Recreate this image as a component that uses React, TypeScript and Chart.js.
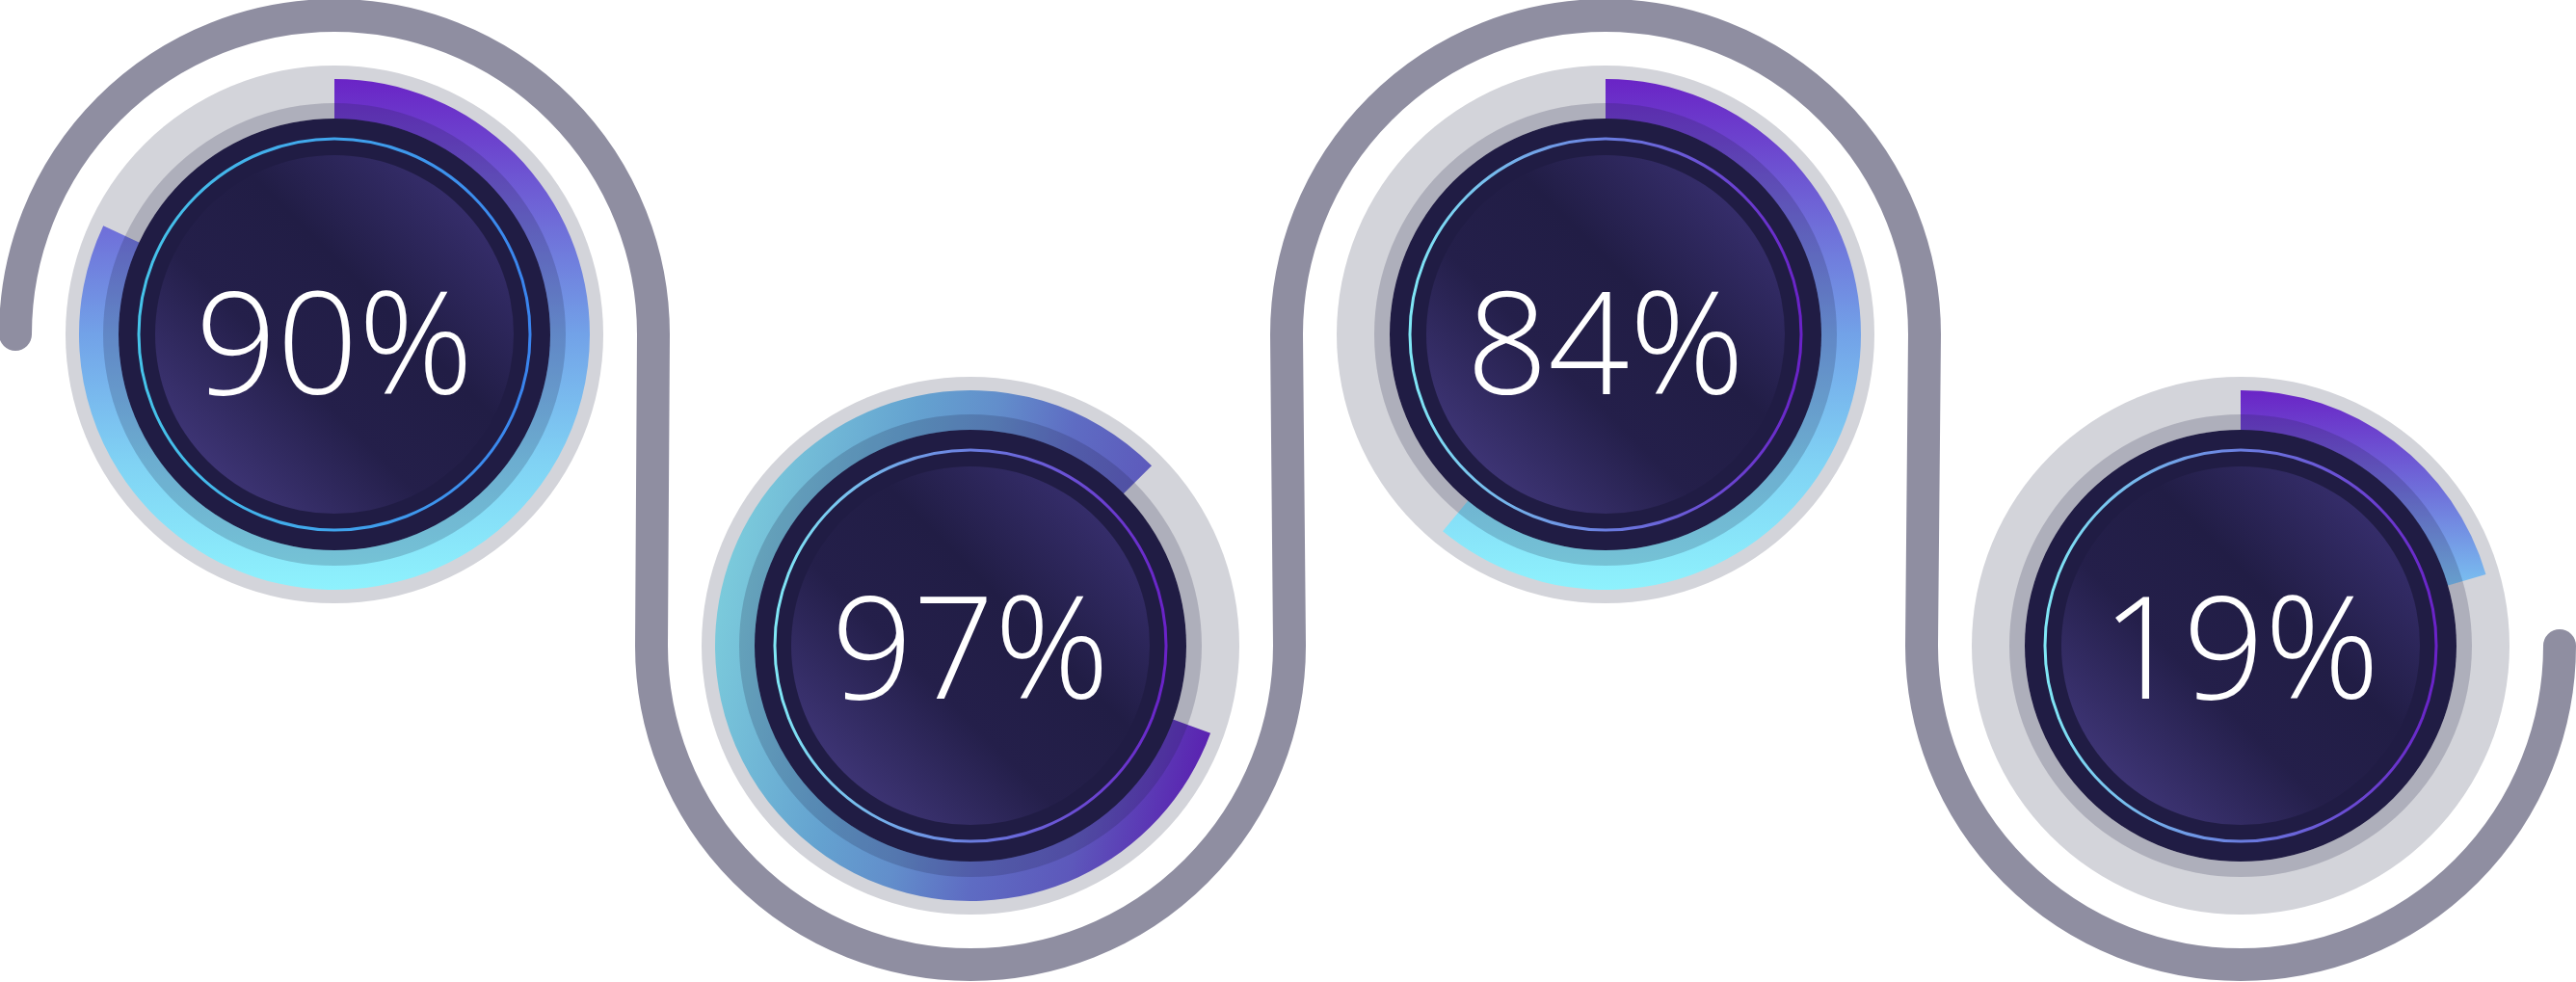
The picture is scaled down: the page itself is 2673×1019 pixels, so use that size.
import React, { useEffect, useRef } from 'react';
import { Chart, registerables } from 'chart.js';

Chart.register(...registerables);

// ---------- data ----------
const gaugeLabels = ['90%', '97%', '84%', '19%'];
const gaugeValues = [90, 97, 84, 19];
// share of the ring that is drawn filled
const arcFilled = [82, 82, 61, 20.5];
// where each filled arc starts (degrees clockwise from 12 o'clock)
const arcStartDeg = [0, 110, 0, 0];

// ---------- layout / style ----------
const W = 2673;
const H = 1019;
const gaugeCenters: [number, number][] = [
  [347, 347],
  [1007, 670],
  [1666, 347],
  [2325, 670],
];
const PATH_R = 331;
const PATH_W = 34;
const PATH_COLOR = '#8f8ea1';
const SIZE = 580;
const R_DISC = 279;
const R_ARC_OUT = 265;
const R_ARC_IN = 224;
const R_BAND = 240;
const R_THIN = 203;
const R_INNER = 186;
const textBaseline = [62, 55, 62, 55];

type Stop = [number, string];
type GradSpec = { x0: number; y0: number; x1: number; y1: number; stops: Stop[] };

const arcGradients: GradSpec[] = [
  { x0: 0, y0: -265, x1: 0, y1: 265, stops: [[0, '#6a24c6'], [0.28, '#6f6cd8'], [0.5, '#72a2e8'], [0.75, '#80d2f4'], [1, '#8ef2fd']] },
  { x0: -265, y0: -60, x1: 265, y1: 60, stops: [[0, '#7cccdc'], [0.3, '#64a2d0'], [0.45, '#628ecb'], [0.6, '#5e6cc3'], [0.78, '#5d58bb'], [1, '#5a1eb0']] },
  { x0: 0, y0: -265, x1: 0, y1: 265, stops: [[0, '#6a24c6'], [0.28, '#6f6cd8'], [0.5, '#72a2e8'], [0.75, '#80d2f4'], [1, '#8ef2fd']] },
  { x0: 0, y0: -265, x1: 0, y1: -55, stops: [[0, '#6a24c6'], [0.5, '#6f70da'], [1, '#7ac6f2']] },
];

const thinGradients: Stop[][] = [
  [[0, '#46c4ea'], [1, '#3a84ee']],
  [[0, '#80e8f6'], [0.5, '#6a7ee0'], [1, '#6a22c8']],
  [[0, '#80e8f6'], [0.5, '#6a7ee0'], [1, '#6a22c8']],
  [[0, '#80e8f6'], [0.5, '#6a7ee0'], [1, '#6a22c8']],
];

function linGrad(ctx: CanvasRenderingContext2D, cx: number, cy: number, s: GradSpec) {
  const g = ctx.createLinearGradient(cx + s.x0, cy + s.y0, cx + s.x1, cy + s.y1);
  s.stops.forEach(([o, c]) => g.addColorStop(o, c));
  return g;
}

function circle(ctx: CanvasRenderingContext2D, x: number, y: number, r: number) {
  ctx.beginPath();
  ctx.arc(x, y, r, 0, Math.PI * 2);
}

function decorPlugin(i: number) {
  return {
    id: 'gaugeDecor' + i,
    beforeDatasetsDraw(chart: any) {
      const arc = chart.getDatasetMeta(0).data[0];
      const cx = arc.x;
      const cy = arc.y;
      const ctx: CanvasRenderingContext2D = chart.ctx;
      ctx.save();
      circle(ctx, cx, cy, R_DISC);
      ctx.fillStyle = '#d3d4da';
      ctx.fill();
      ctx.restore();
    },
    afterDatasetsDraw(chart: any) {
      const arc = chart.getDatasetMeta(0).data[0];
      const cx = arc.x;
      const cy = arc.y;
      const ctx: CanvasRenderingContext2D = chart.ctx;
      ctx.save();
      // darker band
      ctx.beginPath();
      ctx.arc(cx, cy, R_BAND, 0, Math.PI * 2);
      ctx.arc(cx, cy, R_ARC_IN, 0, Math.PI * 2, true);
      ctx.fillStyle = 'rgba(31,28,66,0.2)';
      ctx.fill();
      // navy disc
      circle(ctx, cx, cy, R_ARC_IN);
      ctx.fillStyle = '#201c44';
      ctx.fill();
      // thin ring
      const tg = ctx.createLinearGradient(cx - R_THIN, cy, cx + R_THIN, cy);
      thinGradients[i].forEach(([o, c]) => tg.addColorStop(o, c));
      circle(ctx, cx, cy, R_THIN);
      ctx.lineWidth = 3;
      ctx.strokeStyle = tg;
      ctx.stroke();
      // inner disc
      const d = R_INNER * 0.71;
      const ig = ctx.createLinearGradient(cx - d, cy + d, cx + d, cy - d);
      ig.addColorStop(0, '#3d3474');
      ig.addColorStop(0.35, '#241f4a');
      ig.addColorStop(0.65, '#211d45');
      ig.addColorStop(1, '#352d6a');
      circle(ctx, cx, cy, R_INNER);
      ctx.fillStyle = ig;
      ctx.fill();
      // label
      ctx.fillStyle = '#ffffff';
      ctx.font = '300 148px "Open Sans", "Noto Sans", sans-serif';
      ctx.textAlign = 'center';
      ctx.textBaseline = 'alphabetic';
      ctx.fillText(gaugeLabels[i], cx, cy + textBaseline[i]);
      ctx.restore();
    },
  };
}

function Gauge({ i }: { i: number }) {
  const ref = useRef<HTMLCanvasElement>(null);
  useEffect(() => {
    const canvas = ref.current!;
    const chart = new Chart(canvas, {
      type: 'doughnut',
      data: {
        labels: ['filled ' + gaugeValues[i] + '%', 'rest'],
        datasets: [
          {
            data: [arcFilled[i], 100 - arcFilled[i]],
            backgroundColor: (c: any) => {
              if (c.dataIndex !== 0) return 'rgba(0,0,0,0)';
              const area = c.chart.chartArea;
              if (!area) return '#6f6cd8';
              const mx = (area.left + area.right) / 2;
              const my = (area.top + area.bottom) / 2;
              return linGrad(c.chart.ctx, mx, my, arcGradients[i]);
            },
            borderWidth: 0,
            hoverOffset: 0,
          },
        ],
      },
      options: {
        responsive: false,
        animation: false,
        devicePixelRatio: 1,
        rotation: arcStartDeg[i],
        circumference: 360,
        radius: R_ARC_OUT,
        cutout: R_ARC_IN,
        layout: { padding: 0 },
        events: [],
        plugins: { legend: { display: false }, tooltip: { enabled: false } },
      } as any,
      plugins: [decorPlugin(i)],
    });
    return () => chart.destroy();
  }, [i]);
  const [cx, cy] = gaugeCenters[i];
  return (
    <canvas
      ref={ref}
      width={SIZE}
      height={SIZE}
      style={{ position: 'absolute', left: cx - SIZE / 2, top: cy - SIZE / 2, width: SIZE, height: SIZE }}
    />
  );
}

const pathPlugin = {
  id: 'wavePath',
  beforeDraw(chart: any) {
    const ctx: CanvasRenderingContext2D = chart.ctx;
    const xs = chart.scales.x;
    const ys = chart.scales.y;
    const px = (v: number) => xs.getPixelForValue(v);
    const py = (v: number) => ys.getPixelForValue(v);
    const r = px(PATH_R) - px(0);
    ctx.save();
    ctx.beginPath();
    gaugeCenters.forEach(([cx, cy], k) => {
      if (k === 0) ctx.moveTo(px(cx) - r, py(cy));
      if (k % 2 === 0) ctx.arc(px(cx), py(cy), r, Math.PI, Math.PI * 2, false);
      else ctx.arc(px(cx), py(cy), r, Math.PI, 0, true);
    });
    ctx.lineWidth = PATH_W;
    ctx.lineCap = 'round';
    ctx.lineJoin = 'round';
    ctx.strokeStyle = PATH_COLOR;
    ctx.stroke();
    ctx.restore();
  },
};

function Background() {
  const ref = useRef<HTMLCanvasElement>(null);
  useEffect(() => {
    const chart = new Chart(ref.current!, {
      type: 'scatter',
      data: { datasets: [] },
      options: {
        responsive: false,
        animation: false,
        devicePixelRatio: 1,
        layout: { padding: 0 },
        events: [],
        scales: {
          x: { type: 'linear', min: 0, max: W, display: false },
          y: { type: 'linear', min: 0, max: H, reverse: true, display: false },
        },
        plugins: { legend: { display: false }, tooltip: { enabled: false } },
      } as any,
      plugins: [pathPlugin],
    });
    return () => chart.destroy();
  }, []);
  return (
    <canvas
      ref={ref}
      width={W}
      height={H}
      style={{ position: 'absolute', left: 0, top: 0, width: W, height: H }}
    />
  );
}

export default function App() {
  return (
    <div
      style={{
        position: 'fixed',
        left: 0,
        top: 0,
        width: W,
        height: H,
        background: '#ffffff',
        overflow: 'hidden',
      }}
    >
      <Background />
      {gaugeCenters.map((_, i) => (
        <Gauge key={i} i={i} />
      ))}
    </div>
  );
}
